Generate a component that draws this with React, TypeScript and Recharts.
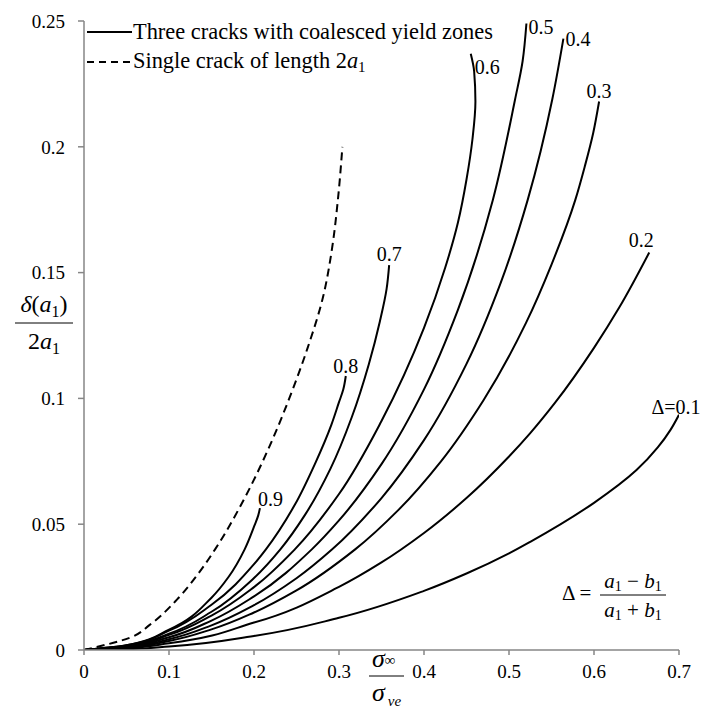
import { LineChart, Line, XAxis, YAxis, Customized } from "recharts";

const serif = '"Liberation Serif", "Times New Roman", serif';

// axis ticks
const xTicks = [0, 0.1, 0.2, 0.3, 0.4, 0.5, 0.6, 0.7];
const yTicks = [0, 0.05, 0.1, 0.15, 0.2, 0.25];

// single crack of length 2a1 (dashed)
const singleX = [0, 0.0548, 0.0773, 0.1093, 0.1337, 0.1542, 0.1884, 0.217, 0.2415, 0.263, 0.281, 0.292, 0.299, 0.304];
const singleY = [0, 0.005, 0.01, 0.02, 0.03, 0.04, 0.06, 0.08, 0.1, 0.12, 0.14, 0.16, 0.18, 0.2];

// three cracks, one array pair per delta
const d09X = [0, 0.05, 0.1, 0.15, 0.17, 0.189, 0.2, 0.205, 0.207];
const d09Y = [0, 0.0019, 0.0081, 0.0208, 0.029, 0.04, 0.049, 0.0535, 0.0564];

const d08X = [0, 0.05, 0.1, 0.15, 0.2, 0.214, 0.248, 0.272, 0.291, 0.3, 0.305, 0.308];
const d08Y = [0, 0.0019, 0.0077, 0.018, 0.0341, 0.04, 0.0577, 0.0742, 0.0895, 0.0985, 0.1035, 0.1089];

const d07X = [0, 0.05, 0.1, 0.15, 0.2, 0.231, 0.26, 0.29, 0.315, 0.335, 0.348, 0.356, 0.359];
const d07Y = [0, 0.0016, 0.0065, 0.0152, 0.0286, 0.04, 0.0537, 0.0721, 0.0925, 0.1135, 0.1305, 0.1435, 0.153];

const d06X = [0, 0.05, 0.1, 0.15, 0.2, 0.248, 0.3, 0.35, 0.4, 0.425, 0.44, 0.45, 0.457, 0.4605, 0.459, 0.455];
const d06Y = [0, 0.0015, 0.006, 0.0137, 0.025, 0.04, 0.062, 0.091, 0.128, 0.152, 0.17, 0.187, 0.203, 0.218, 0.23, 0.237];

const d05X = [0, 0.05, 0.1, 0.15, 0.2, 0.268, 0.3, 0.35, 0.4, 0.44, 0.481, 0.507, 0.516, 0.5205];
const d05Y = [0, 0.0013, 0.0051, 0.0117, 0.0213, 0.04, 0.0515, 0.0739, 0.1036, 0.1353, 0.1789, 0.2186, 0.234, 0.249];

const d04X = [0, 0.05, 0.1, 0.15, 0.2, 0.25, 0.292, 0.35, 0.4, 0.45, 0.49, 0.522, 0.551, 0.564];
const d04Y = [0, 0.0011, 0.0043, 0.0098, 0.0178, 0.0285, 0.04, 0.0604, 0.0834, 0.1137, 0.1457, 0.1789, 0.219, 0.243];

const d03X = [0, 0.05, 0.1, 0.15, 0.2, 0.25, 0.319, 0.37, 0.42, 0.47, 0.52, 0.55, 0.578, 0.589, 0.599, 0.606];
const d03Y = [0, 0.0009, 0.0036, 0.0082, 0.0149, 0.0237, 0.04, 0.0557, 0.075, 0.0993, 0.13, 0.1532, 0.1789, 0.192, 0.2054, 0.218];

const d02X = [0, 0.05, 0.1, 0.2, 0.3, 0.35, 0.4, 0.45, 0.5, 0.525, 0.554, 0.6, 0.63, 0.665];
const d02Y = [0, 0.0007, 0.0027, 0.0109, 0.0251, 0.0348, 0.0465, 0.0604, 0.0769, 0.0862, 0.0982, 0.1201, 0.1363, 0.158];

const d01X = [0, 0.05, 0.1, 0.2, 0.3, 0.4, 0.45, 0.5, 0.525, 0.6, 0.65, 0.675, 0.69, 0.7];
const d01Y = [0, 0.0003, 0.0014, 0.0056, 0.0128, 0.0235, 0.0304, 0.0384, 0.043, 0.0585, 0.0715, 0.0805, 0.0875, 0.0935];

const zip = (xs: number[], ys: number[]) => xs.map((x, i) => ({ x, y: ys[i] }));

const curves = [
  { key: "0.9", data: zip(d09X, d09Y) },
  { key: "0.8", data: zip(d08X, d08Y) },
  { key: "0.7", data: zip(d07X, d07Y) },
  { key: "0.6", data: zip(d06X, d06Y) },
  { key: "0.5", data: zip(d05X, d05Y) },
  { key: "0.4", data: zip(d04X, d04Y) },
  { key: "0.3", data: zip(d03X, d03Y) },
  { key: "0.2", data: zip(d02X, d02Y) },
  { key: "0.1", data: zip(d01X, d01Y) },
];

// where each curve's label sits relative to its last point
const labelPlace: Record<string, { text: string; dx: number; dy: number; anchor: "start" | "middle" | "end" }> = {
  "0.9": { text: "0.9", dx: -2, dy: -2, anchor: "start" },
  "0.8": { text: "0.8", dx: 0, dy: -3, anchor: "middle" },
  "0.7": { text: "0.7", dx: 0, dy: -4, anchor: "middle" },
  "0.6": { text: "0.6", dx: 4, dy: 20, anchor: "start" },
  "0.5": { text: "0.5", dx: 2, dy: 10, anchor: "start" },
  "0.4": { text: "0.4", dx: 2, dy: 7, anchor: "start" },
  "0.3": { text: "0.3", dx: 0, dy: -4, anchor: "middle" },
  "0.2": { text: "0.2", dx: -8, dy: -5, anchor: "middle" },
  "0.1": { text: "\u0394=0.1", dx: -3, dy: -1, anchor: "middle" },
};

const axisGrey = "#868686";

function endLabel(key: string, last: number) {
  const p = labelPlace[key];
  return (props: any) => {
    if (props.index !== last) return <g key={props.index} />;
    return (
      <text
        key={props.index}
        x={props.x + p.dx}
        y={props.y + p.dy}
        textAnchor={p.anchor}
        fontFamily={serif}
        fontSize={20}
        fill="#000"
      >
        {p.text}
      </text>
    );
  };
}

function Annotations() {
  return (
    <g fontFamily={serif} fill="#000">
      {/* legend */}
      <line x1={87} x2={132} y1={32} y2={32} stroke="#000" strokeWidth={2} />
      <text x={133} y={39} fontSize={22.4}>Three cracks with coalesced yield zones</text>
      <line x1={87} x2={132} y1={62} y2={62} stroke="#000" strokeWidth={2} strokeDasharray="7 5" />
      <text x={133} y={68} fontSize={22.4}>
        Single crack of length 2<tspan fontStyle="italic">a</tspan>
        <tspan fontSize={15} dy={4}>1</tspan>
      </text>

      {/* y axis title */}
      <text x={44} y={312} fontSize={24} textAnchor="middle">
        <tspan fontStyle="italic">δ</tspan>(<tspan fontStyle="italic">a</tspan>
        <tspan fontSize={16} dy={5}>1</tspan>
        <tspan dy={-5}>)</tspan>
      </text>
      <line x1={15} x2={73} y1={323} y2={323} stroke="#000" strokeWidth={1} />
      <text x={44} y={349} fontSize={24} textAnchor="middle">
        2<tspan fontStyle="italic">a</tspan>
        <tspan fontSize={16} dy={5}>1</tspan>
      </text>

      {/* x axis title */}
      <text x={372} y={667} fontSize={26}>
        <tspan fontStyle="italic">σ</tspan>
        <tspan fontSize={15} dy={-2}>∞</tspan>
      </text>
      <line x1={369} x2={404} y1={676} y2={676} stroke="#000" strokeWidth={1} />
      <text x={372} y={701} fontSize={26}>
        <tspan fontStyle="italic">σ</tspan>
        <tspan fontSize={15} fontStyle="italic" dx={3} dy={5}>ve</tspan>
      </text>

      {/* delta definition */}
      <text x={562} y={600} fontSize={21}>Δ =</text>
      <text x={633} y={588} fontSize={21} textAnchor="middle">
        <tspan fontStyle="italic">a</tspan>
        <tspan fontSize={14} dy={3}>1</tspan>
        <tspan dy={-3}> − </tspan>
        <tspan fontStyle="italic">b</tspan>
        <tspan fontSize={14} dy={3}>1</tspan>
      </text>
      <line x1={600} x2={666} y1={595} y2={595} stroke="#000" strokeWidth={1} />
      <text x={633} y={617} fontSize={21} textAnchor="middle">
        <tspan fontStyle="italic">a</tspan>
        <tspan fontSize={14} dy={3}>1</tspan>
        <tspan dy={-3}> + </tspan>
        <tspan fontStyle="italic">b</tspan>
        <tspan fontSize={14} dy={3}>1</tspan>
      </text>
    </g>
  );
}

export default function App() {
  const tickStyle = { fill: "#000", fontSize: 19, fontFamily: serif };
  return (
    <div style={{ position: "absolute", left: 0, top: 0, width: 702, height: 709, background: "#fff" }}>
      <LineChart width={702} height={709} margin={{ top: 21, right: 23, bottom: 0, left: 0 }}>
        <XAxis
          type="number"
          dataKey="x"
          domain={[0, 0.7]}
          ticks={xTicks}
          allowDataOverflow
          height={59}
          tickSize={5}
          tickMargin={10}
          tick={tickStyle}
          axisLine={{ stroke: axisGrey, strokeWidth: 1.5 }}
          tickLine={{ stroke: axisGrey, strokeWidth: 1.5 }}
          tickFormatter={(v: number) => String(v)}
        />
        <YAxis
          type="number"
          dataKey="y"
          domain={[0, 0.25]}
          ticks={yTicks}
          allowDataOverflow
          width={84}
          tickSize={6}
          tickMargin={13}
          tick={tickStyle}
          axisLine={{ stroke: axisGrey, strokeWidth: 1.5 }}
          tickLine={{ stroke: axisGrey, strokeWidth: 1.5 }}
          tickFormatter={(v: number) => String(v)}
        />
        <Line
          data={zip(singleX, singleY)}
          dataKey="y"
          type="monotoneY"
          stroke="#000"
          strokeWidth={2}
          strokeDasharray="8 5"
          dot={false}
          activeDot={false}
          isAnimationActive={false}
        />
        {curves.map((c) => (
          <Line
            key={c.key}
            data={c.data}
            dataKey="y"
            type="monotoneY"
            stroke="#000"
            strokeWidth={2}
            dot={false}
            activeDot={false}
            isAnimationActive={false}
            label={endLabel(c.key, c.data.length - 1)}
          />
        ))}
        <Customized component={Annotations} />
      </LineChart>
    </div>
  );
}
